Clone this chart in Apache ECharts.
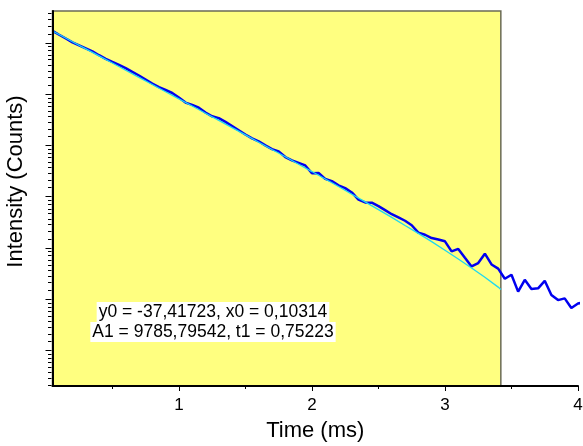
<!DOCTYPE html>
<html><head><meta charset="utf-8">
<script src="https://cdn.jsdelivr.net/npm/echarts@6/dist/echarts.min.js"></script>
<style>html,body{margin:0;padding:0;background:#fff}#c{width:583px;height:446px}</style>
</head><body><div id="c"></div>
<script>
// ---- data ----
const timeMs = [0.05,0.10,0.15,0.20,0.25,0.30,0.35,0.40,0.45,0.50,0.55,0.60,0.65,0.70,0.75,0.80,0.85,0.90,0.95,1.00,
  1.05,1.10,1.15,1.20,1.25,1.30,1.35,1.40,1.45,1.50,1.55,1.60,1.65,1.70,1.75,1.80,1.85,1.90,1.95,2.00,
  2.05,2.10,2.15,2.20,2.25,2.30,2.35,2.40,2.45,2.50,2.55,2.60,2.65,2.70,2.75,2.80,2.85,2.90,2.95,3.00,
  3.05,3.10,3.15,3.20,3.25,3.30,3.35,3.40,3.45,3.50,3.55,3.60,3.65,3.70,3.75,3.80,3.85,3.90,3.95,4.00,4.05];
const intensity = [10188,9442,8768,8142,7680,7243,6819,6332,5903,5557,5241,4924,4572,4263,3943,3647,3400,3213,3031,2770,
  2513,2403,2275,2072,1924,1858,1725,1590,1465,1350,1253,1182,1091,1015,971,869,815,776,738,633,
  637,568,543,501,474,436,379,359,357,334,309,285,268,251,230,199,191,179,174,168,
  138,145,122,103,110,132,107,98.7,80.9,87.6,63.0,79.3,66.4,67.2,77.8,59.0,53.4,55.2,45.8,49.9,51.4];
const fitTime = [0.05,0.1,0.2,0.3,0.4,0.5,0.6,0.7,0.8,0.9,1.0,1.1,1.2,1.3,1.4,1.5,1.6,1.7,1.8,1.9,2.0,
  2.1,2.2,2.3,2.4,2.5,2.6,2.7,2.8,2.9,3.0,3.1,3.2,3.3,3.4,3.42];
const fitIntensity = [10148,9479,8238,7173,6246,5439,4726,4115,3577,3108,2706,2352,2044,1777,1541,1339,1161,1007,874,756,655,
  566,489,421,363,312,268,229,196,167,141,119,100,83.4,68.8,65.8];
const fitRange = [0.05, 3.42];
const xRange = [0.05, 4];
const yRange = [10, 15000];
const xTickLabels = [1, 2, 3, 4];
const xMinorTicks = [0.5, 1.5, 2.5, 3.5];
const fitText = ['y0 = -37,41723, x0 = 0,10314', 'A1 = 9785,79542, t1 = 0,75223'];

// y ticks of a natural-log axis: majors at e^n, 8 linear minors per interval
const yTicks = [];
for (let n = 2; n <= 9; n++) {
  const a = Math.exp(n), b = Math.exp(n + 1);
  if (a >= yRange[0] && a <= yRange[1]) yTicks.push([xRange[0], a, 1]);
  for (let k = 1; k <= 8; k++) {
    const v = a + k * (b - a) / 9;
    if (v >= yRange[0] && v <= yRange[1]) yTicks.push([xRange[0], v, 0]);
  }
}

const FONT = "'Liberation Sans', Arial, sans-serif";
const chart = echarts.init(document.getElementById('c'), null, {renderer: 'canvas'});
chart.setOption({
  animation: false,
  backgroundColor: '#ffffff',
  grid: {left: 52.5, right: 5, top: 11, bottom: 60, containLabel: false, outerBoundsMode: 'none'},
  xAxis: [{
    type: 'value', min: xRange[0], max: xRange[1], z: 10,
    name: 'Time (ms)', nameLocation: 'middle', nameGap: 34,
    nameTextStyle: {fontFamily: FONT, fontSize: 22, color: '#000'},
    axisLine: {show: true, lineStyle: {color: '#000', width: 2}},
    axisTick: {show: true, customValues: xTickLabels, length: 5, lineStyle: {color: '#000', width: 1}},
    axisLabel: {show: true, customValues: xTickLabels, margin: 11, fontFamily: FONT, fontSize: 17, color: '#000'},
    splitLine: {show: false}
  }, {
    type: 'value', min: xRange[0], max: xRange[1], position: 'bottom', z: 10,
    axisLine: {show: false},
    axisTick: {show: true, customValues: xMinorTicks, length: 3, lineStyle: {color: '#000', width: 1}},
    axisLabel: {show: false}, splitLine: {show: false}
  }],
  yAxis: {
    type: 'log', logBase: Math.E, min: yRange[0], max: yRange[1], z: 10,
    name: 'Intensity (Counts)', nameLocation: 'middle', nameGap: 26,
    nameTextStyle: {fontFamily: FONT, fontSize: 22, color: '#000', padding: [0, 0, 0, 34]},
    axisLine: {show: true, lineStyle: {color: '#000', width: 2}},
    axisTick: {show: false}, axisLabel: {show: false},
    splitLine: {show: false}, minorTick: {show: false}
  },
  series: [{
    type: 'custom', name: 'fit region', silent: true, z: 1, clip: false,
    data: [[fitRange[0], yRange[0], fitRange[1], yRange[1]]],
    renderItem: (params, api) => {
      const p0 = api.coord([api.value(0), api.value(3)]);
      const p1 = api.coord([api.value(2), api.value(1)]);
      return {type: 'rect', shape: {x: p0[0], y: p0[1], width: p1[0] - p0[0], height: p1[1] - p0[1]},
        style: {fill: '#ffff80', stroke: '#6b6b55', lineWidth: 1.5}};
    }
  }, {
    type: 'line', name: 'data', z: 3, clip: false, showSymbol: false, symbol: 'none',
    data: timeMs.map((t, i) => [t, intensity[i]]),
    lineStyle: {color: '#0000f0', width: 2.5}
  }, {
    type: 'line', name: 'fit', z: 4, clip: false, showSymbol: false, symbol: 'none',
    data: fitTime.map((t, i) => [t, fitIntensity[i]]),
    lineStyle: {color: '#1fd8f0', width: 1.3}
  }, {
    type: 'custom', name: 'y ticks', silent: true, z: 11, clip: false,
    data: yTicks,
    renderItem: (params, api) => {
      const p = api.coord([api.value(0), api.value(1)]);
      const len = api.value(2) ? 6 : 3.5;
      return {type: 'line', shape: {x1: p[0] - 1 - len, y1: Math.round(p[1]) + 0.5, x2: p[0] - 1, y2: Math.round(p[1]) + 0.5},
        style: {stroke: '#000', lineWidth: 1}};
    }
  }],
  graphic: [
    {type: 'text', x: 213, y: 312, z: 20, style: {text: fitText[0], font: '17.5px ' + FONT, fill: '#000',
      align: 'center', verticalAlign: 'middle', backgroundColor: '#fff', padding: [1, 2]}},
    {type: 'text', x: 213, y: 332, z: 20, style: {text: fitText[1], font: '17.5px ' + FONT, fill: '#000',
      align: 'center', verticalAlign: 'middle', backgroundColor: '#fff', padding: [1, 2]}}
  ]
});
</script></body></html>
